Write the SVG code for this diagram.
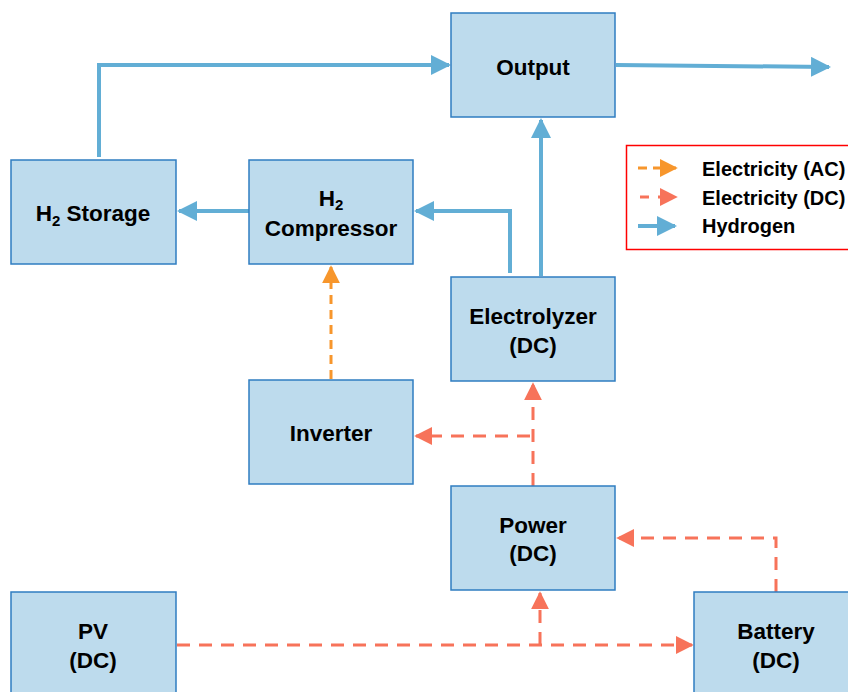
<svg xmlns="http://www.w3.org/2000/svg" width="848" height="692" viewBox="0 0 848 692">
<style>
.box{fill:#BDDBED;stroke:#2F7DC1;stroke-width:1.5}
.t{font-family:"Liberation Sans",Arial,sans-serif;font-weight:bold;font-size:22.5px;fill:#000;text-anchor:middle}
.lt{font-family:"Liberation Sans",Arial,sans-serif;font-weight:bold;font-size:20px;fill:#000}
.h2{fill:none;stroke:#62AED5;stroke-width:4}
.ac{fill:none;stroke:#F7962C;stroke-width:3;stroke-dasharray:9 6}
.dc{fill:none;stroke:#F7735A;stroke-width:3;stroke-dasharray:13 9}
</style>
<defs>
<marker id="ah" viewBox="0 0 10 10" refX="9" refY="5" markerWidth="5" markerHeight="5" markerUnits="strokeWidth" orient="auto"><path d="M0,0L10,5L0,10z" fill="#62AED5"/></marker>
<marker id="aac" viewBox="0 0 10 10" refX="9" refY="5" markerWidth="6" markerHeight="6" markerUnits="strokeWidth" orient="auto"><path d="M0,0L10,5L0,10z" fill="#F7962C"/></marker>
<marker id="adc" viewBox="0 0 10 10" refX="9" refY="5" markerWidth="6" markerHeight="6" markerUnits="strokeWidth" orient="auto"><path d="M0,0L10,5L0,10z" fill="#F7735A"/></marker>
</defs>
<g id="connectors">
<path class="h2" d="M99,157V65H449" marker-end="url(#ah)"/>
<path class="h2" d="M616,65L829,67" marker-end="url(#ah)"/>
<path class="h2" d="M541,276V120" marker-end="url(#ah)"/>
<path class="h2" d="M510,273V211H416" marker-end="url(#ah)"/>
<path class="h2" d="M249,211H179" marker-end="url(#ah)"/>
<path class="ac" d="M331,379V267" marker-end="url(#aac)"/>
<path class="dc" d="M533,486V384" marker-end="url(#adc)"/>
<path class="dc" d="M530,436H416" marker-end="url(#adc)"/>
<path class="dc" d="M776,592V538H618" marker-end="url(#adc)"/>
<path class="dc" d="M177,645H692" marker-end="url(#adc)"/>
<path class="dc" d="M540,645V593" marker-end="url(#adc)"/>
</g>
<g id="output"><rect class="box" x="451" y="13" width="164" height="104"/><text class="t" x="533" y="75">Output</text></g>
<g id="h2storage"><rect class="box" x="11" y="160" width="165" height="104"/><text class="t" x="93" y="221">H<tspan font-size="15" dy="5">2</tspan><tspan dy="-5"> Storage</tspan></text></g>
<g id="h2compressor"><rect class="box" x="249" y="160" width="164" height="104"/><text class="t" x="331" y="206">H<tspan font-size="15" dy="4">2</tspan></text><text class="t" x="331" y="236">Compressor</text></g>
<g id="electrolyzer"><rect class="box" x="451" y="277" width="164" height="104"/><text class="t" x="533" y="324">Electrolyzer</text><text class="t" x="533" y="353">(DC)</text></g>
<g id="inverter"><rect class="box" x="249" y="380" width="164" height="104"/><text class="t" x="331" y="441">Inverter</text></g>
<g id="power"><rect class="box" x="451" y="486" width="164" height="104"/><text class="t" x="533" y="533">Power</text><text class="t" x="533" y="561">(DC)</text></g>
<g id="pv"><rect class="box" x="11" y="592" width="165" height="104"/><text class="t" x="93" y="639">PV</text><text class="t" x="93" y="668">(DC)</text></g>
<g id="battery"><rect class="box" x="694" y="592" width="160" height="104"/><text class="t" x="776" y="639">Battery</text><text class="t" x="776" y="668">(DC)</text></g>
<g id="legend">
<rect x="626.5" y="145.5" width="230" height="104" fill="#fff" stroke="#FF0000" stroke-width="1.5"/>
<path class="ac" d="M638,168H676" stroke-dasharray="8 5" marker-end="url(#aac)"/>
<path d="M640,197H676" fill="none" stroke="#F7735A" stroke-width="3" stroke-dasharray="9 9" marker-end="url(#adc)"/>
<path class="h2" d="M638,226H675" stroke-width="3.5" marker-end="url(#ah)"/>
<text class="lt" x="702" y="176">Electricity (AC)</text>
<text class="lt" x="702" y="205">Electricity (DC)</text>
<text class="lt" x="702" y="233">Hydrogen</text>
</g>
</svg>
